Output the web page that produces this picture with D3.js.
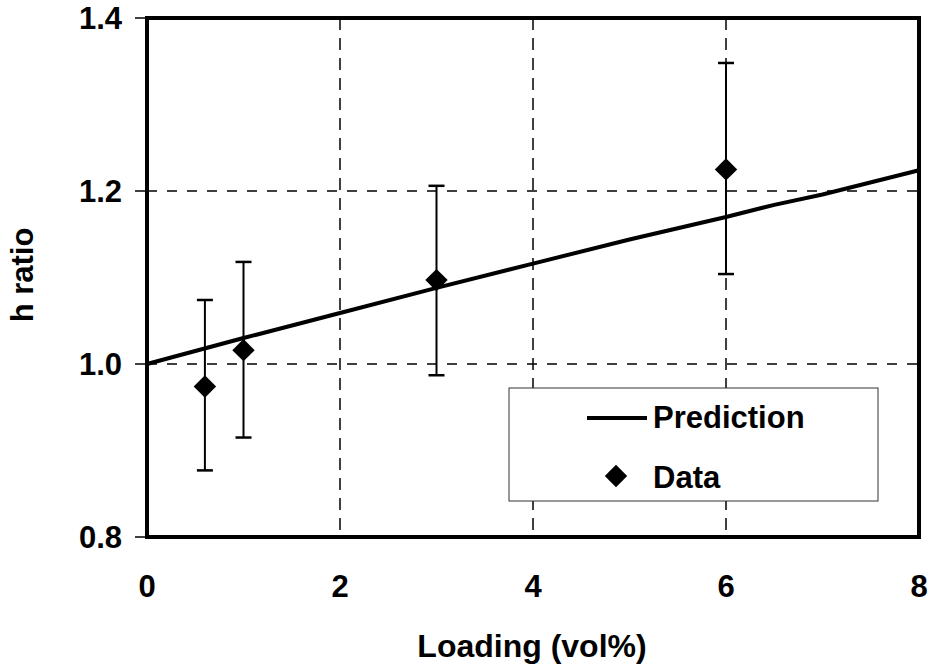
<!DOCTYPE html>
<html>
<head>
<meta charset="utf-8">
<script src="https://cdn.jsdelivr.net/npm/d3@7"></script>
<style>
  body { margin: 0; background: #fff; }
  text { font-family: "Liberation Sans", Arial, sans-serif; font-weight: bold; fill: #000; }
</style>
</head>
<body>
<div class="canvas"></div>
<script>
const xTicks = [0, 2, 4, 6, 8];
const yTicks = [0.8, 1.0, 1.2, 1.4];
const xGrid = [2, 4, 6];
const yGrid = [1.0, 1.2];

// prediction curve
const predX = [0, 1, 2, 3, 4, 5, 6, 6.5, 7, 8];
const predY = [1.000, 1.030, 1.059, 1.088, 1.116, 1.144, 1.170, 1.184, 1.196, 1.224];

// measured data with error bars
const dataX = [0.6, 1.0, 3.0, 6.0];
const dataY = [0.974, 1.016, 1.097, 1.225];
const dataLo = [0.877, 0.915, 0.987, 1.104];
const dataHi = [1.074, 1.118, 1.206, 1.348];

const dims = {width: 934, height: 667};
const box = {left: 147, top: 18, right: 919, bottom: 537};

const svg = d3.select('.canvas')
    .append('svg')
    .attr('width', dims.width)
    .attr('height', dims.height);

const x = d3.scaleLinear().domain([0, 8]).range([box.left, box.right]);
const y = d3.scaleLinear().domain([0.8, 1.4]).range([box.bottom, box.top]);

// grid
svg.selectAll('.vgrid')
    .data(xGrid)
    .enter().append('line')
    .attr('x1', d => x(d)).attr('x2', d => x(d))
    .attr('y1', box.top).attr('y2', box.bottom)
    .attr('stroke', '#000').attr('stroke-width', 1.5)
    .attr('stroke-dasharray', '12,8');

svg.selectAll('.hgrid')
    .data(yGrid)
    .enter().append('line')
    .attr('x1', box.left).attr('x2', box.right)
    .attr('y1', d => y(d)).attr('y2', d => y(d))
    .attr('stroke', '#000').attr('stroke-width', 1.5)
    .attr('stroke-dasharray', '10,10');

// left ticks
svg.selectAll('.ytick')
    .data(yTicks)
    .enter().append('line')
    .attr('x1', box.left - 12).attr('x2', box.left)
    .attr('y1', d => y(d)).attr('y2', d => y(d))
    .attr('stroke', '#000').attr('stroke-width', 1.5);

svg.selectAll('.ylabel')
    .data(yTicks)
    .enter().append('text')
    .attr('x', 122)
    .attr('y', d => y(d) + 11)
    .attr('text-anchor', 'end')
    .attr('font-size', 31)
    .text(d => d.toFixed(1));

svg.selectAll('.xlabel')
    .data(xTicks)
    .enter().append('text')
    .attr('x', d => x(d))
    .attr('y', 597)
    .attr('text-anchor', 'middle')
    .attr('font-size', 31)
    .text(d => d);

// prediction line
const line = d3.line()
    .x((d, i) => x(predX[i]))
    .y(d => y(d));

svg.append('path')
    .datum(predY)
    .attr('fill', 'none')
    .attr('stroke', '#000')
    .attr('stroke-width', 4)
    .attr('d', line);

// error bars
const bars = svg.selectAll('.err')
    .data(dataX)
    .enter().append('g');

bars.append('line')
    .attr('x1', d => x(d)).attr('x2', d => x(d))
    .attr('y1', (d, i) => y(dataLo[i])).attr('y2', (d, i) => y(dataHi[i]))
    .attr('stroke', '#000').attr('stroke-width', 2);

bars.append('line')
    .attr('x1', d => x(d) - 8).attr('x2', d => x(d) + 8)
    .attr('y1', (d, i) => y(dataLo[i])).attr('y2', (d, i) => y(dataLo[i]))
    .attr('stroke', '#000').attr('stroke-width', 2.5);

bars.append('line')
    .attr('x1', d => x(d) - 8).attr('x2', d => x(d) + 8)
    .attr('y1', (d, i) => y(dataHi[i])).attr('y2', (d, i) => y(dataHi[i]))
    .attr('stroke', '#000').attr('stroke-width', 2.5);

const diamond = d3.symbol().type(d3.symbolDiamond2).size(320);

bars.append('path')
    .attr('d', diamond)
    .attr('transform', (d, i) => `translate(${x(d)}, ${y(dataY[i])})`)
    .attr('fill', '#000');

// frame
svg.append('rect')
    .attr('x', box.left).attr('y', box.top)
    .attr('width', box.right - box.left)
    .attr('height', box.bottom - box.top)
    .attr('fill', 'none')
    .attr('stroke', '#000')
    .attr('stroke-width', 4);

// legend
const legend = svg.append('g');

legend.append('rect')
    .attr('x', 509).attr('y', 388)
    .attr('width', 369).attr('height', 113)
    .attr('fill', '#fff')
    .attr('stroke', '#333')
    .attr('stroke-width', 1);

legend.append('line')
    .attr('x1', 587).attr('x2', 647)
    .attr('y1', 418).attr('y2', 418)
    .attr('stroke', '#000').attr('stroke-width', 4);

legend.append('text')
    .attr('x', 653).attr('y', 428)
    .attr('font-size', 31)
    .text('Prediction');

legend.append('path')
    .attr('d', diamond)
    .attr('transform', 'translate(616, 476)')
    .attr('fill', '#000');

legend.append('text')
    .attr('x', 653).attr('y', 488)
    .attr('font-size', 31)
    .text('Data');

// axis titles
svg.append('text')
    .attr('x', 532).attr('y', 657)
    .attr('text-anchor', 'middle')
    .attr('font-size', 32)
    .text('Loading (vol%)');

svg.append('text')
    .attr('transform', 'translate(33, 275) rotate(-90)')
    .attr('text-anchor', 'middle')
    .attr('font-size', 31)
    .text('h ratio');
</script>
</body>
</html>
